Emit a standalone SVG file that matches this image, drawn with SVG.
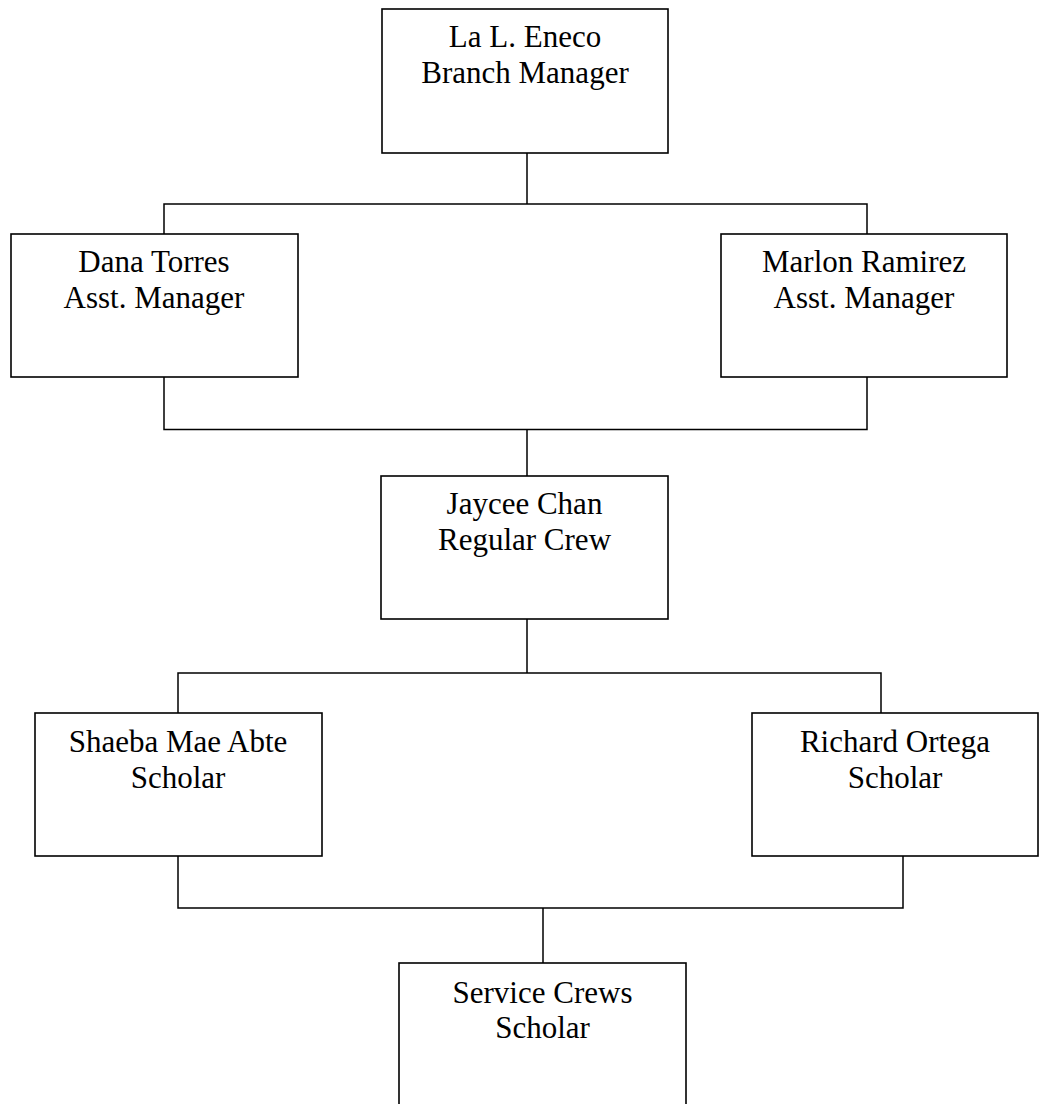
<svg xmlns="http://www.w3.org/2000/svg" width="1039" height="1104" viewBox="0 0 1039 1104">
  <style>
    .box { fill: #ffffff; stroke: #000000; stroke-width: 1.6; }
    .link { fill: none; stroke: #000000; stroke-width: 1.5; }
    .label { font-family: "Liberation Serif", "Times New Roman", serif; font-size: 31px; fill: #000000; text-anchor: middle; }
  </style>
  <rect x="0" y="0" width="1039" height="1104" fill="#ffffff"/>

  <!-- reporting lines -->
  <g id="connectors">
    <path class="link" d="M527 153 V204 M164 234 V204 H867 V234"/>
    <path class="link" d="M164 377 V429.5 H867 V377 M527 429.5 V476"/>
    <path class="link" d="M527 619 V673 M178 713 V673 H881 V713"/>
    <path class="link" d="M178 856 V908 H903 V856 M543 908 V963"/>
  </g>

  <g id="node-branch-manager">
    <rect class="box" x="382" y="9" width="286" height="144"/>
    <text class="label" x="525" y="47">La L. Eneco</text>
    <text class="label" x="525" y="83">Branch Manager</text>
  </g>

  <g id="node-dana-torres">
    <rect class="box" x="11" y="234" width="287" height="143"/>
    <text class="label" x="154" y="272">Dana Torres</text>
    <text class="label" x="154" y="308">Asst. Manager</text>
  </g>

  <g id="node-marlon-ramirez">
    <rect class="box" x="721" y="234" width="286" height="143"/>
    <text class="label" x="864" y="272">Marlon Ramirez</text>
    <text class="label" x="864" y="308">Asst. Manager</text>
  </g>

  <g id="node-jaycee-chan">
    <rect class="box" x="381" y="476" width="287" height="143"/>
    <text class="label" x="524.5" y="514">Jaycee Chan</text>
    <text class="label" x="524.5" y="550">Regular Crew</text>
  </g>

  <g id="node-shaeba-mae-abte">
    <rect class="box" x="35" y="713" width="287" height="143"/>
    <text class="label" x="178" y="751.5">Shaeba Mae Abte</text>
    <text class="label" x="178" y="787.5">Scholar</text>
  </g>

  <g id="node-richard-ortega">
    <rect class="box" x="752" y="713" width="286" height="143"/>
    <text class="label" x="895" y="751.5">Richard Ortega</text>
    <text class="label" x="895" y="787.5">Scholar</text>
  </g>

  <g id="node-service-crews">
    <rect class="box" x="399" y="963" width="287" height="160"/>
    <text class="label" x="542.5" y="1002.5">Service Crews</text>
    <text class="label" x="542.5" y="1038">Scholar</text>
  </g>
</svg>
